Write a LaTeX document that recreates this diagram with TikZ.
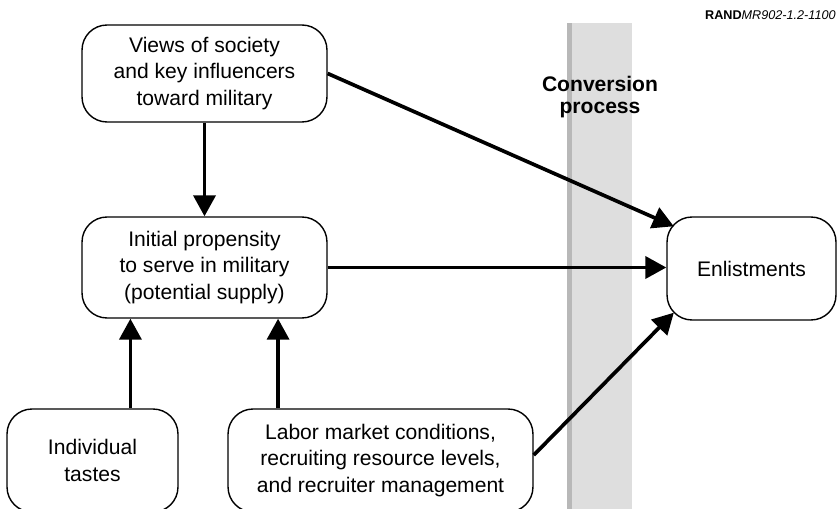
\documentclass[tikz,border=0pt]{standalone}
\usepackage{fontspec}
\setmainfont{Liberation Sans}
\usetikzlibrary{arrows.meta}

\begin{document}
\begin{tikzpicture}[x=0.02cm,y=-0.02cm,
		thick arrow/.style = {line width=2.1pt,-{Triangle[length=0.42cm,width=0.44cm]}},
		main node/.style = {draw,line width=0.8pt,rounded corners=0.5cm,align=center,
			font=\fontsize{12}{15.2}\selectfont, inner sep=0pt}]
		
		\useasboundingbox (0,0) rectangle (837,509);
		\fill[black!13] (567,23) rectangle (632,509);
		\fill[black!28] (567,23) rectangle (572,509);
		
		\node[main node,minimum width=4.9cm,minimum height=1.94cm] at (204.5,73.5) (1) {Views of society\\and key influencers\\toward military};
		\node[main node,minimum width=4.9cm,minimum height=2.02cm] at (204.5,267.5) (2) {Initial propensity\\to serve in military\\(potential supply)};
		\node[main node,minimum width=3.42cm,minimum height=2.06cm] at (92.5,460.5) (3) {Individual\\tastes};
		\node[main node,minimum width=6.1cm,minimum height=2.06cm] at (380.5,460.5) (4) {Labor market conditions,\\recruiting resource levels,\\and recruiter management};
		\node[main node,minimum width=3.38cm,minimum height=2.06cm] at (751.5,268.5) (5) {Enlistments};
		\node[font=\bfseries\fontsize{12}{13}\selectfont,align=center] at (600,97) (6) {Conversion\\process};
		\node[anchor=east,font=\fontsize{7.2}{9}\selectfont,inner sep=0pt] at (836,15) (7) {\textbf{RAND}\textit{MR902-1.2-1100}};
		
		\draw[thick arrow] (1.south)--(2.north);
		\draw[thick arrow] (1.east)--([xshift=0.15cm,yshift=-0.2cm]5.north west);
		\draw[thick arrow] (2.east)--(2.east -| 5.west);
		\draw[thick arrow] (3.54)--(2.south -| 3.54);
		\draw[thick arrow] (4.153)--(2.south -| 4.153);
		\draw[thick arrow] (4.2)--([xshift=0.15cm,yshift=0.16cm]5.south west);
		\end{tikzpicture}
\end{document}
